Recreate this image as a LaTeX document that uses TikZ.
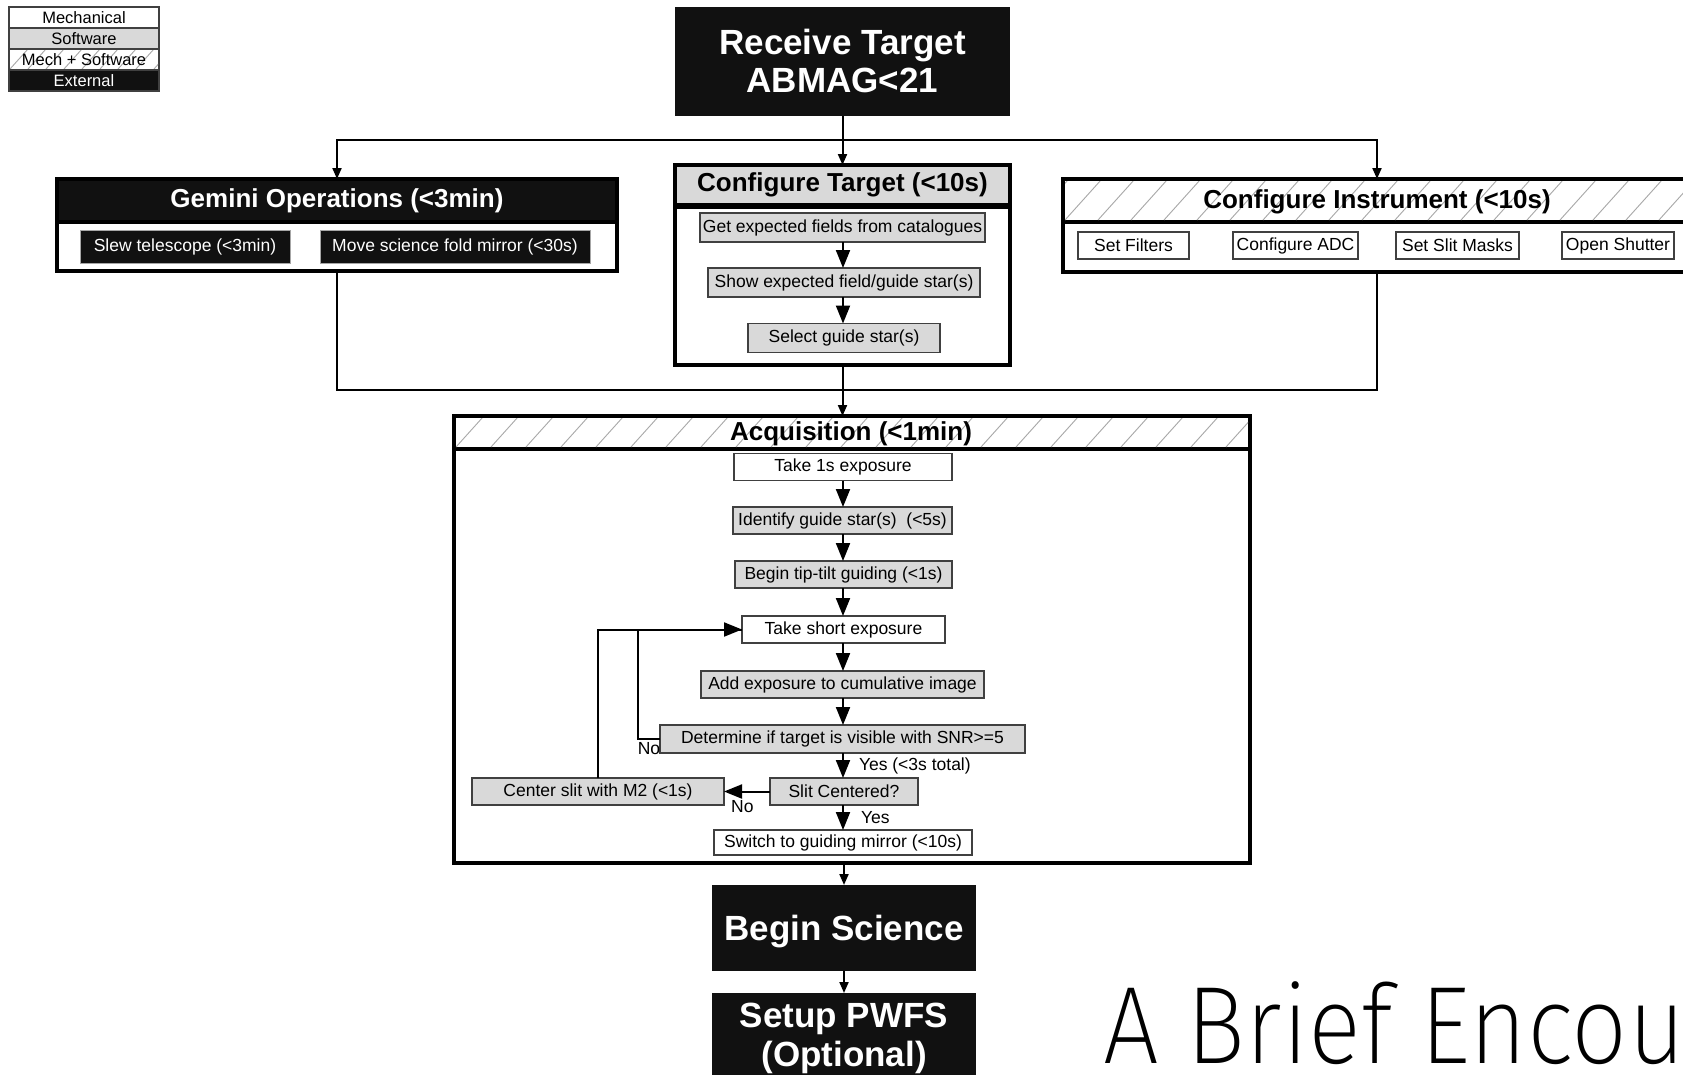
\documentclass[tikz,border=0pt]{standalone}
\usepackage{fontspec}
\setmainfont{Liberation Sans}
\newfontfamily\titlefont{Fira Sans ExtraLight}[FakeStretch=0.9]
\usetikzlibrary{arrows.meta}

\definecolor{swgray}{HTML}{D9D9D9}
\definecolor{extblack}{HTML}{111111}
\definecolor{edgegray}{HTML}{404040}
\definecolor{hatchgray}{HTML}{A8A8A8}

\tikzset{
  every node/.style={inner sep=0pt, outer sep=0pt},
  small/.style={font=\fontsize{17.5}{20}\selectfont},
  mechbox/.style={small, draw=edgegray, line width=1.3pt, fill=white, minimum height=27pt},
  swbox/.style={mechbox, fill=swgray},
  extbox/.style={small, fill=extblack, text=white, draw=gray!70, line width=1pt, minimum height=33pt},
  bigext/.style={fill=extblack, text=white, align=center,
    font=\fontsize{35}{38}\selectfont\bfseries},
  grouptitle/.style={font=\fontsize{26}{30}\selectfont\bfseries},
  frame/.style={line width=3.5pt, draw=black},
  wire/.style={line width=2pt, draw=black},
  tipS/.style={-{Triangle[length=11pt,width=9pt]}},
  tipL/.style={-{Triangle[length=18pt,width=14pt]}},
  legendrow/.style={draw=edgegray, line width=1.3pt, minimum width=150pt,
    minimum height=21pt, font=\fontsize{16.5}{18}\selectfont},
}

% diagonal hatching clipped to a rectangle: x1, y1, x2, y2, spacing
\newcommand\hatchfill[5]{%
  \begin{scope}
    \clip (#1,#2) rectangle (#3,#4);
    \pgfmathsetmacro\hatchh{#4-#2}
    \pgfmathsetmacro\hatcha{#1-#5*3}
    \pgfmathsetmacro\hatchb{#1-#5*2}
    \foreach \hx in {\hatcha,\hatchb,...,#3}
      \draw[hatchgray, line width=0.9pt] (\hx,#4) -- ++(0.9*\hatchh,-\hatchh);
  \end{scope}}

\begin{document}
\begin{tikzpicture}[x=1pt,y=-1pt]
\useasboundingbox (0,0) rectangle (1683,1074);
\clip (0,0) rectangle (1683,1074);
\fill[white] (0,0) rectangle (1683,1074);

% ---- legend ----
\node[legendrow, fill=white] (legmech) at (84,17.5) {Mechanical};
\node[legendrow, fill=swgray] (legsw) at (84,38.5) {Software};
\node[legendrow, fill=white] (legboth) at (84,59.5) {};
\hatchfill{10}{50}{158}{69}{18}
\node[font=\fontsize{16.5}{18}\selectfont] (legbothtext) at (84,59.5) {Mech + Software};
\node[legendrow, fill=extblack, text=white] (legext) at (84,80.5) {External};

% ---- start ----
\node[bigext, minimum width=335pt, minimum height=109pt] (recv) at (842.5,61.5)
  {\raisebox{2pt}{Receive Target}\\\raisebox{2pt}{ABMAG<21}};

% ---- Gemini operations ----
\node[frame, fill=white, minimum width=560pt, minimum height=92pt, anchor=north west] (gem) at (57,179) {};
\node[frame, fill=extblack, text=white, grouptitle, minimum width=560pt, minimum height=43pt, anchor=north west] (gemhead) at (57,179) {Gemini Operations (<3min)};
\node[extbox, minimum width=210pt] (slew) at (185,246.5) {Slew telescope (<3min)};
\node[extbox, minimum width=270pt] (fold) at (455,246.5) {Move science fold mirror (<30s)};

% ---- configure target ----
\node[frame, fill=white, minimum width=335pt, minimum height=158pt] (ct) at (842.5,286) {};
\node[frame, fill=swgray, grouptitle, minimum width=335pt, minimum height=40pt] (cthead) at (842.5,185) {Configure Target (<10s)};
\node[swbox, minimum width=285pt, minimum height=29pt] (getf) at (842.5,227.5) {Get expected fields from catalogues};
\node[swbox, minimum width=272pt, minimum height=29pt] (showf) at (844,282.5) {Show expected field/guide star(s)};
\node[swbox, minimum width=192pt, minimum height=29pt] (selg) at (844,338) {Select guide star(s)};
\draw[wire, tipL] (getf.south -| 843,0) -- (showf.north -| 843,0);
\draw[wire, tipL] (showf.south -| 843,0) -- (selg.north -| 843,0);

% ---- configure instrument ----
\node[frame, fill=white, minimum width=628pt, minimum height=93pt, anchor=north west] (inst) at (1063,179) {};
\node[frame, minimum width=628pt, minimum height=43pt, anchor=north west] (insthead) at (1063,179) {};
\hatchfill{1065}{181}{1689}{220}{33}
\node[grouptitle] (insttitle) at (1377,201.5) {Configure Instrument (<10s)};
\node[mechbox, minimum width=111pt] (filt) at (1133.5,245.5) {Set Filters};
\node[mechbox, minimum width=125pt] (adc) at (1295.5,245.5) {Configure ADC};
\node[mechbox, minimum width=123pt] (masks) at (1457.5,245.5) {Set Slit Masks};
\node[mechbox, minimum width=112pt] (shut) at (1618,245.5) {Open Shutter};

% ---- acquisition ----
\node[frame, fill=white, minimum width=796pt, minimum height=447pt, anchor=north west] (acq) at (454,416) {};
\node[frame, minimum width=796pt, minimum height=33pt, anchor=north west] (acqhead) at (454,416) {};
\hatchfill{456}{418}{1248}{447}{35}
\node[grouptitle] (acqtitle) at (851,434) {Acquisition (<1min)};

\node[mechbox, minimum width=218pt] (take1) at (843,467) {Take 1s exposure};
\node[swbox, minimum width=219pt] (ident) at (842.5,520.5) {Identify guide star(s)\ \ (<5s)};
\node[swbox, minimum width=217pt] (tiptilt) at (843.5,574.5) {Begin tip-tilt guiding (<1s)};
\node[mechbox, minimum width=203pt] (tshort) at (843.5,629.5) {Take short exposure};
\node[swbox, minimum width=283pt] (addexp) at (842.5,684.5) {Add exposure to cumulative image};
\node[swbox, minimum width=365pt, minimum height=28pt] (det) at (842.5,739) {Determine if target is visible with SNR>=5};
\node[swbox, minimum width=148pt] (slitc) at (844,791.5) {Slit Centered?};
\node[swbox, minimum width=252pt] (cslit) at (598,791.5) {Center slit with M2 (<1s)};
\node[mechbox, minimum width=258pt, minimum height=25pt] (switch) at (843,842.5) {Switch to guiding mirror (<10s)};

\draw[wire, tipL] (take1.south -| 843,0) -- (ident.north -| 843,0);
\draw[wire, tipL] (ident.south -| 843,0) -- (tiptilt.north -| 843,0);
\draw[wire, tipL] (tiptilt.south -| 843,0) -- (tshort.north -| 843,0);
\draw[wire, tipL] (tshort.south -| 843,0) -- (addexp.north -| 843,0);
\draw[wire, tipL] (addexp.south -| 843,0) -- (det.north -| 843,0);
\draw[wire, tipL] (det.south -| 843,0) --
  node[small, anchor=west, xshift=16pt] {Yes (<3s total)} (slitc.north -| 843,0);
\draw[wire, tipL] (slitc.south -| 843,0) --
  node[small, anchor=west, xshift=18pt] {Yes} (switch.north -| 843,0);
\draw[wire, tipL] (slitc.west) --
  node[small, pos=0.6, anchor=north, yshift=-9pt] {No} (cslit.east);

% retry loops back to the short exposure
\coordinate (loopx) at (638,700);
\draw[wire, tipL] (cslit.north) |- (tshort.west);
\draw[wire] (det.west) -- node[small, below, yshift=-3pt] {No} (det.west -| loopx) |- (tshort.west);

% ---- finish ----
\node[bigext, minimum width=264pt, minimum height=86pt, text depth=0pt] (sci) at (844,928) {Begin Science};
\node[bigext, minimum width=264pt, minimum height=83pt, text depth=0pt, font=\fontsize{35}{39}\selectfont\bfseries] (pwfs) at (844,1034.5) {Setup PWFS\\(Optional)};

% ---- connectors between stages ----
\coordinate (topbus) at (842.5,140);
\draw[wire] (recv.south) -- (topbus);
\draw[wire, tipS] (topbus) -| (gemhead.north);
\draw[wire, tipS] (topbus) -- (cthead.north);
\draw[wire, tipS] (topbus) -| (insthead.north);

\coordinate (botbus) at (842.5,390);
\draw[wire] (gem.south) |- (botbus);
\draw[wire] (inst.south) |- (botbus);
\draw[wire, tipS] (ct.south) -- (ct.south |- acqhead.north);

\draw[wire, tipS] (acq.south -| sci.north) -- (sci.north);
\draw[wire, tipS] (sci.south) -- (pwfs.north);

% ---- slide title ----
\node[anchor=base west, font=\titlefont\fontsize{110}{120}\selectfont] (slidetitle) at (1103,1063) {A Brief Encou};
\end{tikzpicture}
\end{document}
